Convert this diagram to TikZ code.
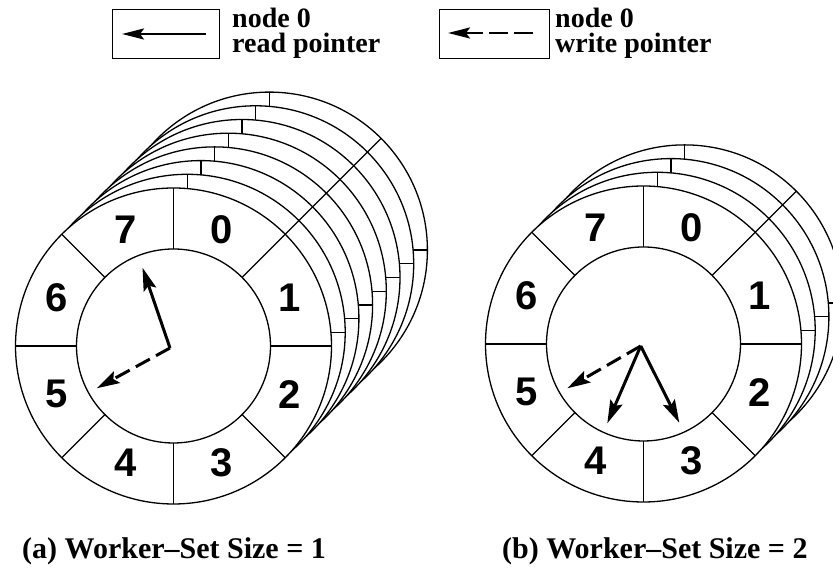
\documentclass[tikz,border=0pt]{standalone}
\usepackage{fontspec}
\setmainfont{Liberation Serif}
\newfontfamily\digitfont{Liberation Sans}
\usetikzlibrary{arrows.meta,calc}

\tikzset{
  ringline/.style={line width=1.3pt},
  % one buffer ring: 8 slots between the inner and the outer circle
  ringdisk/.pic={
    \fill[white] (0,0) circle (158pt);
    \draw[ringline] (0,0) circle (158pt) (0,0) circle (97pt);
    \foreach \a in {0,45,...,315} \draw[ringline] (\a:97pt) -- (\a:158pt);
  },
  ptrsolid/.style={line width=3pt,-{Stealth[length=23pt,width=13pt,inset=4pt]}},
  ptrdashed/.style={ptrsolid,dash pattern=on 16pt off 7pt},
  legendptr/.style={line width=2.5pt,-{Stealth[length=22pt,width=11pt,inset=4pt]}},
  legenddashed/.style={legendptr,dash pattern=on 19pt off 6pt},
  slotlabel/.style={font=\digitfont\bfseries\fontsize{40}{40}\selectfont,inner sep=0},
  legendtext/.style={font=\bfseries\fontsize{28}{28}\selectfont,anchor=base west,inner sep=0},
  captiontext/.style={font=\bfseries\fontsize{30}{30}\selectfont,anchor=base west,inner sep=0},
  legendbox/.style={draw,line width=1.3pt,inner sep=0,anchor=south west}
}

\begin{document}
\begin{tikzpicture}[x=1pt,y=1pt]
\useasboundingbox (0,0) rectangle (833,569);
\clip (0,0) rectangle (833,569);

% ---- legend ----
\node[legendbox,minimum width=107pt,minimum height=49pt] (readbox) at (112,510) {};
\coordinate (readtail) at (206,535);
\coordinate (readtip) at (122,535);
\draw[legendptr] (readtail) -- (readtip);
\node[legendtext] (readA) at (232,541) {node 0};
\node[legendtext] (readB) at (232,516) {read pointer};

\node[legendbox,minimum width=110pt,minimum height=49pt] (writebox) at (439,510) {};
\coordinate (writetail) at (533,536);
\coordinate (writetip) at (448,536);
\draw[legenddashed] (writetail) -- (writetip);
\node[legendtext] (writeA) at (555,541) {node 0};
\node[legendtext] (writeB) at (555,516) {write pointer};

% ---- (a) eight stacked rings ----
\coordinate (Lc) at (173.5,223);
\foreach \k in {7,6,...,1}
  \pic at ($(Lc)+(13.7*\k,13.7*\k)$) {ringdisk};
\pic at (Lc) {ringdisk};
\foreach \i in {0,...,7}
  \node[slotlabel] (Lslot\i) at ($(Lc)+({67.5-45*\i}:126)$) {\i};

\coordinate (Lhub) at (170,221);
\coordinate (Lread) at (142.5,301.3);
\coordinate (Lwrite) at (96.7,180.7);
\draw[ptrsolid] (Lhub) -- (Lread);
\draw[ptrdashed] (Lhub) -- (Lwrite);

% ---- (b) four stacked rings ----
\coordinate (Rc) at (643.5,225);
\foreach \k in {3,2,1}
  \pic at ($(Rc)+(13.7*\k,13.7*\k)$) {ringdisk};
\pic at (Rc) {ringdisk};
\foreach \i in {0,...,7}
  \node[slotlabel] (Rslot\i) at ($(Rc)+({67.5-45*\i}:126)$) {\i};

\coordinate (Rhub) at (640.7,223);
\coordinate (RreadA) at (607.3,145.7);
\coordinate (RreadB) at (679.3,146.3);
\coordinate (Rwrite) at (567.3,180.7);
\draw[ptrsolid] (Rhub) -- (RreadA);
\draw[ptrsolid] (Rhub) -- (RreadB);
\draw[ptrdashed] (Rhub) -- (Rwrite);

% ---- captions ----
\node[captiontext] (capA) at (22,10.5) {(a) Worker--Set Size = 1};
\node[captiontext] (capB) at (502,10.5) {(b) Worker--Set Size = 2};
\end{tikzpicture}
\end{document}
